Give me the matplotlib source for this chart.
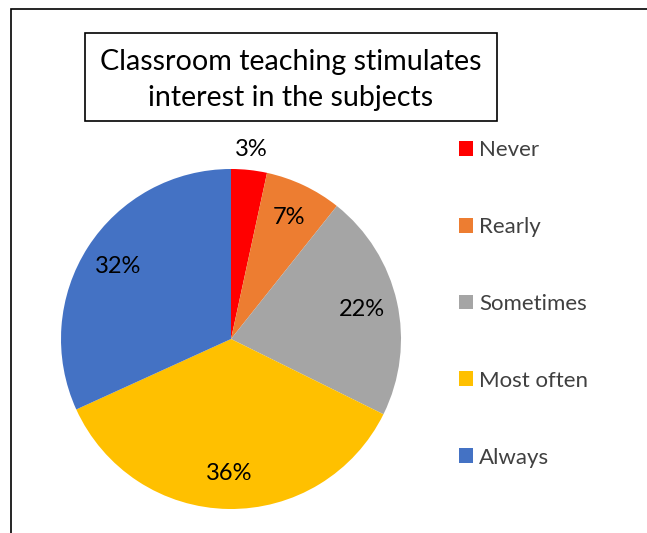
import numpy as np
import matplotlib
matplotlib.use('Agg')
import matplotlib.pyplot as plt
from matplotlib.patches import Rectangle

plt.rcParams['font.family'] = ['Lato', 'DejaVu Sans']

labels = ['Never', 'Rearly', 'Sometimes', 'Most often', 'Always']
values = [3.4, 7.3, 21.6, 35.9, 31.8]
colors = ['#FF0000', '#ED7D31', '#A5A5A5', '#FFC000', '#4472C4']
title = 'Classroom teaching stimulates\ninterest in the subjects'

W, H = 647, 533
fig = plt.figure(figsize=(W / 100, H / 100), dpi=100)

# outer chart border (runs off the right and bottom edges)
fig.patches.append(Rectangle((11 / W, -0.1), 1.2, 1 - 8.5 / H + 0.1,
                             transform=fig.transFigure, fill=False,
                             edgecolor='#000000', lw=1.2))

# title box
fig.patches.append(Rectangle((85 / W, 1 - 121 / H), 412 / W, 88 / H,
                             transform=fig.transFigure, facecolor='white',
                             edgecolor='#000000', lw=1.2))
fig.text(291 / W, 1 - 80 / H, title, ha='center', va='center', fontsize=20.6,
         linespacing=1.45)

ax = fig.add_axes([61 / W, 24 / H, 340 / W, 340 / H])
wedges, texts, autotexts = ax.pie(values, colors=colors, startangle=90, counterclock=False,
                                  autopct='%.0f%%', pctdistance=0.79,
                                  textprops={'fontsize': 17, 'color': 'black'})
ax.set_xlim(-1, 1)
ax.set_ylim(-1, 1)
ax.set_aspect('equal')

# small slice label sits just outside the pie
w0 = wedges[0]
mid = np.deg2rad((w0.theta1 + w0.theta2) / 2)
autotexts[0].set_position((1.12 * np.cos(mid), 1.12 * np.sin(mid)))
autotexts[0].set_clip_on(False)

fig.legend(wedges, labels, loc='upper left', bbox_to_anchor=(439 / W, 1 - 120 / H),
           frameon=False, fontsize=16, labelcolor='#404040',
           handlelength=0.65, handleheight=0.65, handletextpad=0.25, labelspacing=2.56)

fig.savefig('out.png', dpi=100)
